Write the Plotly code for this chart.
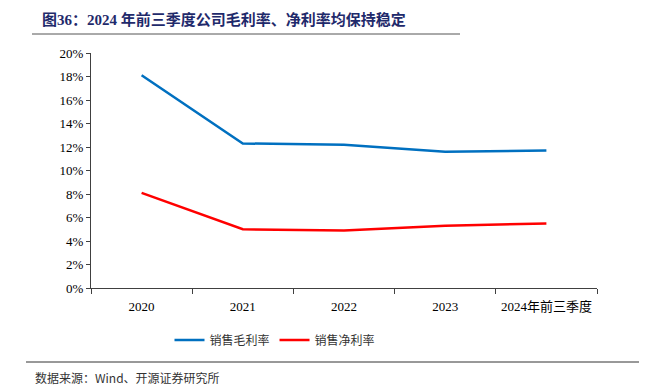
import plotly.graph_objects as go

categories = ["2020", "2021", "2022", "2023", "2024年前三季度"]
gross_margin = [18.1, 12.3, 12.2, 11.6, 11.7]
net_margin = [8.1, 5.0, 4.9, 5.3, 5.5]
ytick_vals = [0, 2, 4, 6, 8, 10, 12, 14, 16, 18, 20]
ytick_text = [f"{v}%" for v in ytick_vals]

SERIF = "Times New Roman, Liberation Serif, Noto Sans CJK SC, serif"
CJK = "Noto Sans CJK SC, Liberation Serif, serif"

OFF = 8  # default page body margin
W, H = 647 - OFF, 390 - OFF
# page-pixel plot area: x 91..597, y 53..288
L, T = 91 - OFF, 53 - OFF
R = W - (597 - OFF)
B = H - (288 - OFF)
pw = W - L - R
ph = H - T - B

def px(x):
    return (x - OFF - L) / pw

def py(y):
    return (H - B - (y - OFF)) / ph

fig = go.Figure()
fig.add_trace(go.Scatter(x=categories, y=gross_margin, mode="lines", name="销售毛利率",
                         line=dict(color="#0070C0", width=2.5)))
fig.add_trace(go.Scatter(x=categories, y=net_margin, mode="lines", name="销售净利率",
                         line=dict(color="#FF0000", width=2.5)))

fig.update_layout(
    width=W, height=H,
    margin=dict(l=L, r=R, t=T, b=B),
    paper_bgcolor="white", plot_bgcolor="white",
    font=dict(family=SERIF, size=13, color="#000000"),
    showlegend=True,
    legend=dict(orientation="h", x=px(275), xanchor="center", y=py(340), yanchor="middle",
                font=dict(family=CJK, size=12, color="#333333"), itemwidth=30,
                traceorder="normal"),
    xaxis=dict(type="category", showgrid=False, showline=True, linecolor="#404040", linewidth=1,
               ticks="outside", tickson="boundaries", ticklen=5, tickcolor="#404040",
               ticklabelstandoff=6,
               tickfont=dict(family=SERIF, size=13), range=[-0.5, 4.5]),
    yaxis=dict(range=[0, 20], tickvals=ytick_vals, ticktext=ytick_text, showgrid=False,
               showline=True, linecolor="#404040", linewidth=1, ticks="outside", ticklen=4,
               tickcolor="#404040", zeroline=False, tickfont=dict(family=SERIF, size=13)),
    annotations=[
        dict(text="<b>图36：2024 年前三季度公司毛利率、净利率均保持稳定</b>", xref="paper", yref="paper",
             x=px(40), y=py(20), xanchor="left", yanchor="middle", showarrow=False,
             font=dict(family=SERIF, size=15, color="#1F2A6B")),
        dict(text="数据来源：Wind、开源证券研究所", xref="paper", yref="paper",
             x=px(33), y=py(377), xanchor="left", yanchor="middle", showarrow=False,
             font=dict(family=CJK, size=12, color="#333333")),
    ],
    shapes=[
        dict(type="line", xref="paper", yref="paper", x0=px(32), x1=px(460), y0=py(34), y1=py(34),
             line=dict(color="#555555", width=1)),
        dict(type="line", xref="paper", yref="paper", x0=px(26), x1=px(647), y0=py(362), y1=py(362),
             line=dict(color="#333333", width=1)),
    ],
)

fig.write_html("out.html")
